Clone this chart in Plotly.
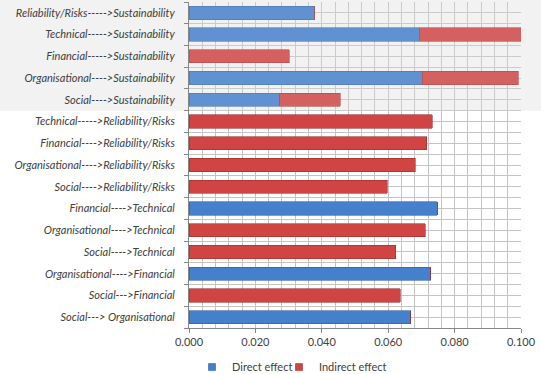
import plotly.graph_objects as go

categories = [
    "Reliability/Risks----->Sustainability",
    "Technical----->Sustainability",
    "Financial----->Sustainability",
    "Organisational---->Sustainability",
    "Social---->Sustainability",
    "Technical----->Reliability/Risks",
    "Financial---->Reliability/Risks",
    "Organisational---->Reliability/Risks",
    "Social---->Reliability/Risks",
    "Financial---->Technical",
    "Organisational---->Technical",
    "Social---->Technical",
    "Organisational---->Financial",
    "Social--->Financial",
    "Social---> Organisational",
]
direct_effect = [0.0378, 0.0694, 0.0, 0.0702, 0.0274, 0.0, 0.0, 0.0, 0.0,
                 0.0747, 0.0, 0.0, 0.0728, 0.0, 0.0668]
indirect_effect = [0.0, 0.0306, 0.0302, 0.0289, 0.0181, 0.0732, 0.0716, 0.0681,
                   0.0597, 0.0, 0.0712, 0.0623, 0.0, 0.0636, 0.0]
series_names = ["Direct effect", "Indirect effect"]
x_ticks = [0.0, 0.02, 0.04, 0.06, 0.08, 0.1]

pos = list(range(len(categories)))
BLUE = "#4580cc"
RED = "#d04444"
BLUE_EDGE = "#2f5f9e"
RED_EDGE = "#9e2f2f"

fig = go.Figure()
for vals, name, col, edge in [(direct_effect, series_names[0], BLUE, BLUE_EDGE),
                              (indirect_effect, series_names[1], RED, RED_EDGE)]:
    fig.add_trace(go.Bar(
        y=pos, x=vals, orientation="h", name=name, showlegend=False,
        legendgroup=name,
        marker=dict(color=col, line=dict(color=edge, width=0.6)),
    ))
# legend entries with small square keys (one legend box per series)
for name, col, edge, lg in [(series_names[0], BLUE, BLUE_EDGE, "legend"),
                            (series_names[1], RED, RED_EDGE, "legend2")]:
    fig.add_trace(go.Scatter(
        x=[None], y=[None], mode="markers", name=name, legendgroup=name, legend=lg,
        marker=dict(symbol="square", size=7, color=col, line=dict(color=edge, width=0.6)),
    ))

n = len(categories)
band_rows = 5
band_bottom = 1 - band_rows / n

# gray background band behind the top group (full width)
fig.add_shape(type="rect", xref="paper", yref="paper",
              x0=-0.6, x1=1.1, y0=band_bottom, y1=1.02,
              fillcolor="#f2f2f2", line=dict(width=0), layer="below")
# light veil over the top group bars
fig.add_shape(type="rect", xref="paper", yref="paper",
              x0=0, x1=1, y0=band_bottom, y1=1.0,
              fillcolor="rgba(240,240,240,0.16)", line=dict(width=0), layer="above")

legend_style = dict(orientation="h", xanchor="left", y=-0.12, yanchor="middle",
                    font=dict(size=11, color="#404040"), itemwidth=30,
                    bgcolor="rgba(0,0,0,0)")

fig.update_layout(
    width=541, height=374,
    margin=dict(l=189, r=20, t=2, b=46, autoexpand=False),
    barmode="stack",
    bargap=0.39,
    paper_bgcolor="white",
    plot_bgcolor="rgba(0,0,0,0)",
    font=dict(family="Lato, Roboto, Liberation Sans, sans-serif",
              size=11, color="#404040"),
    showlegend=True,
    legend=dict(x=0.009, **legend_style),
    legend2=dict(x=0.271, **legend_style),
)
fig.update_xaxes(
    range=[0, 0.1], tickvals=x_ticks, tickformat=".3f", automargin=False,
    showgrid=True, gridcolor="#c4c4c4", gridwidth=1,
    minor=dict(dtick=0.004, showgrid=True, gridcolor="#c4c4c4", gridwidth=1),
    showline=True, linecolor="#868686", linewidth=1,
    ticks="outside", ticklen=4, tickcolor="#868686",
    zeroline=False, tickfont=dict(size=11, color="#404040"),
)
fig.update_yaxes(
    range=[n - 0.5, -0.5], tickmode="array", tickvals=pos, ticktext=categories,
    automargin=False,
    showgrid=True, gridcolor="#c4c4c4", gridwidth=1,
    minor=dict(tick0=0.5, dtick=1, showgrid=True, gridcolor="#c4c4c4", gridwidth=1,
               ticks="outside", ticklen=4, tickcolor="#868686"),
    ticks="", ticklabelstandoff=11,
    showline=True, linecolor="#868686", linewidth=1, zeroline=False,
    tickfont=dict(size=11, color="#404040", style="italic"),
)

fig.write_html("out.html", config={"displayModeBar": False},
               post_script="document.body.style.margin='0';document.body.style.padding='0';")
